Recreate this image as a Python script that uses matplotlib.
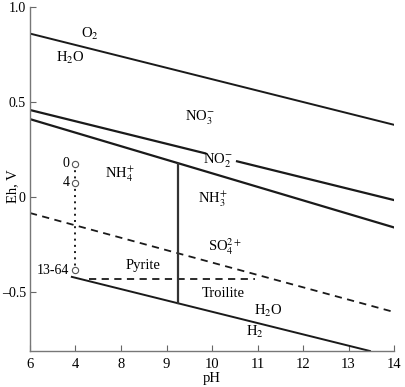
import matplotlib
matplotlib.use("Agg")
import matplotlib.pyplot as plt

plt.rcParams['font.family'] = ['Liberation Serif', 'DejaVu Serif']
plt.rcParams['mathtext.fontset'] = 'stix'

# x tick labels as printed in the reference (second label reads "4")
xticks = [6, 7, 8, 9, 10, 11, 12, 13, 14]
xticklabels = ['6', '4', '8', '9', '10', '11', '12', '13', '14']
yticks = [1.0, 0.5, 0.0, -0.5]
yticklabels = ['1.0', '0.5', '0', '\u20130.5']

# boundary lines (pH, Eh)
o2_ph = [6, 14];        o2_eh = [0.86, 0.38]
no3a_ph = [6, 9.85];    no3a_eh = [0.458, 0.230]
no3b_ph = [10.55, 14];  no3b_eh = [0.188, -0.016]
nh4_ph = [6, 14];       nh4_eh = [0.41, -0.16]
h2_ph = [6.92, 13.47];  h2_eh = [-0.42, -0.81]
so4_ph = [6, 14];       so4_eh = [-0.084, -0.605]
pyr_ph = [7.3, 10.95];  pyr_eh = [-0.43, -0.43]
vert_ph = [9.25, 9.25]; vert_eh = [0.174, -0.558]

# sample points
pt_ph = [7, 7, 7]
pt_eh = [0.174, 0.074, -0.384]
pt_labels = ['0', '4', '13-64']

fig = plt.figure(figsize=(4.05, 3.87), dpi=100)
ax = fig.add_axes([0.074, 0.093, 0.899, 0.889])

lc = '#1a1a1a'
ax.plot(o2_ph, o2_eh, color=lc, lw=1.4)
ax.plot(no3a_ph, no3a_eh, color=lc, lw=1.6)
ax.plot(no3b_ph, no3b_eh, color=lc, lw=1.6)
ax.plot(nh4_ph, nh4_eh, color=lc, lw=1.6)
ax.plot(h2_ph, h2_eh, color=lc, lw=1.4)
ax.plot(so4_ph, so4_eh, color=lc, lw=1.3, dashes=(4, 3))
ax.plot(pyr_ph, pyr_eh, color=lc, lw=1.3, dashes=(4, 3))
ax.plot(vert_ph, vert_eh, color='#333333', lw=1.6)
ax.plot([pt_ph[0], pt_ph[-1]], [pt_eh[0], pt_eh[-1]], color=lc, lw=1.4,
        linestyle=(0, (1, 2.2)))
ax.plot(pt_ph, pt_eh, 'o', ms=4.5, mfc='white', mec='#555555', mew=0.8, zorder=5)
for x, y, s in zip(pt_ph, pt_eh, pt_labels):
    ax.text(x - 0.13, y, s, ha='right', va='center', fontsize=10)

fs = 10.5
ax.text(7.32, 0.86, r'O$_2$', ha='center', va='center', fontsize=fs)
ax.text(6.88, 0.73, r'H$_2$O', ha='center', va='center', fontsize=fs)
ax.text(9.74, 0.415, r'NO$_3^{-}$', ha='center', va='center', fontsize=fs)
ax.text(10.13, 0.19, r'NO$_2^{-}$', ha='center', va='center', fontsize=fs)
ax.text(7.98, 0.12, r'NH$_4^{+}$', ha='center', va='center', fontsize=fs)
ax.text(10.02, -0.01, r'NH$_3^{+}$', ha='center', va='center', fontsize=fs)
ax.text(10.29, -0.263, r'SO$_4^{2+}$', ha='center', va='center', fontsize=fs)
ax.text(8.48, -0.358, 'Pyrite', ha='center', va='center', fontsize=fs)
ax.text(10.24, -0.51, 'Troilite', ha='center', va='center', fontsize=fs)
ax.text(11.23, -0.6, r'H$_2$O', ha='center', va='center', fontsize=fs)
ax.text(10.95, -0.71, r'H$_2$', ha='center', va='center', fontsize=fs)

ax.set_xlim(6, 14)
ax.set_ylim(-0.81, 1.0)
ax.set_xticks(xticks)
ax.set_xticklabels(xticklabels, fontsize=10.5)
ax.set_yticks(yticks)
ax.set_yticklabels(yticklabels, fontsize=10)
ax.tick_params(direction='in', length=4, width=0.8, color='#666666')
ax.tick_params(axis='x', pad=5)
ax.tick_params(axis='y', pad=3)
for s in ['top', 'right']:
    ax.spines[s].set_visible(False)
for s in ['left', 'bottom']:
    ax.spines[s].set_color('#777777')
    ax.spines[s].set_linewidth(1.0)
ax.set_xlabel('pH', fontsize=10.5, labelpad=1)
ax.set_ylabel('Eh, V', fontsize=10.5, labelpad=0)
ax.yaxis.set_label_coords(-0.03, 0.48)

fig.savefig('out.png', dpi=100)
